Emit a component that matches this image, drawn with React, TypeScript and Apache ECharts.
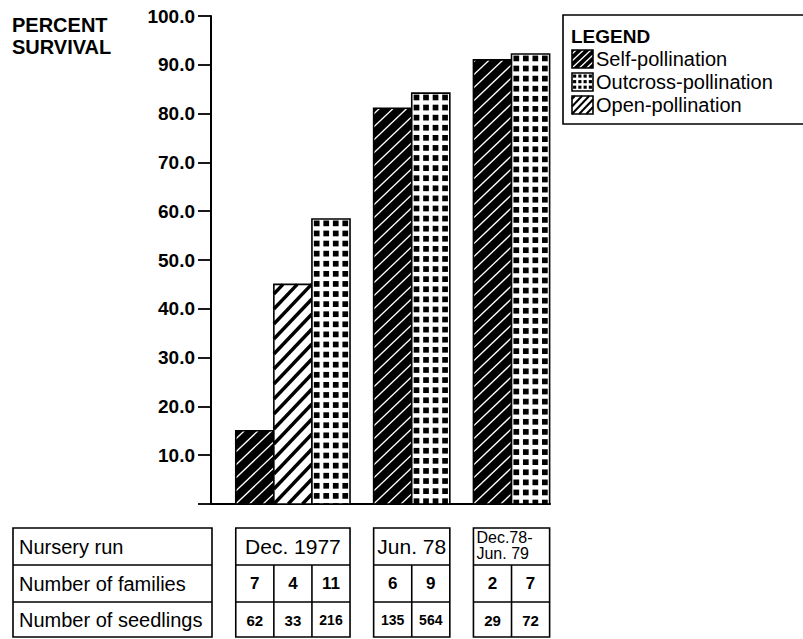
import React, { useEffect, useRef } from 'react';
import * as echarts from 'echarts';

// ---- data ----
const runs = ['Dec. 1977', 'Jun. 78', 'Dec.78-\nJun. 79'];
const kindNames = ['Self-pollination', 'Open-pollination', 'Outcross-pollination'];
const legendOrder = ['Self-pollination', 'Outcross-pollination', 'Open-pollination'];
const selfSurvival = [15.0, 81.1, 91.0];
const openSurvival: (number | null)[] = [45.0, null, null];
const outcrossSurvival = [58.4, 84.2, 92.2];
const selfFamilies = [7, 6, 2];
const openFamilies: (number | null)[] = [4, null, null];
const outcrossFamilies = [11, 9, 7];
const selfSeedlings = [62, 135, 29];
const openSeedlings: (number | null)[] = [33, null, null];
const outcrossSeedlings = [216, 564, 72];
const rowLabels = ['Nursery run', 'Number of families', 'Number of seedlings'];
const yTitle = ['PERCENT', 'SURVIVAL'];
const legendTitle = 'LEGEND';

// ---- layout ----
const FONT = '"Liberation Sans", Arial, Helvetica, sans-serif';
const BAR_W = 1;
const LEAD = 0.65;
const GROUP_GAP = 0.62;
const X_MAX = 8.9;

type Bar = { run: number; kind: number; value: number; families: number; seedlings: number; x0: number };

function buildBars(): Bar[] {
  const out: Bar[] = [];
  let x = LEAD;
  runs.forEach((_, i) => {
    if (i > 0) x += GROUP_GAP;
    const vals = [selfSurvival[i], openSurvival[i], outcrossSurvival[i]];
    const fam = [selfFamilies[i], openFamilies[i], outcrossFamilies[i]];
    const seed = [selfSeedlings[i], openSeedlings[i], outcrossSeedlings[i]];
    vals.forEach((v, k) => {
      if (v == null) return;
      out.push({ run: i, kind: k, value: v, families: fam[k] as number, seedlings: seed[k] as number, x0: x });
      x += BAR_W;
    });
  });
  return out;
}

function hatch(x: number, y: number, w: number, h: number, m: number, d: number, stroke: string, lw: number) {
  const els: any[] = [];
  const kMax = h + m * w;
  const j0 = Math.floor(-h / d);
  for (let k = h + j0 * d; k <= kMax + d; k += d) {
    const uA = Math.max(0, (k - h) / m);
    const uB = Math.min(w, k / m);
    if (uB - uA <= 0.3) continue;
    els.push({
      type: 'line',
      silent: true,
      shape: { x1: x + uA, y1: y + k - m * uA, x2: x + uB, y2: y + k - m * uB },
      style: { stroke, lineWidth: lw },
    });
  }
  return els;
}

function dots(x: number, y: number, w: number, h: number, cols: number, topOff: number) {
  const els: any[] = [];
  const px = w / cols;
  const s = px * 0.6;
  const py = px * 1.06;
  for (let r = 0; r < 500; r++) {
    const yy = y + topOff + r * py;
    if (yy >= y + h - 0.5) break;
    const hh = Math.min(s, y + h - yy);
    for (let c = 0; c < cols; c++) {
      els.push({
        type: 'rect',
        silent: true,
        shape: { x: x + (c + 0.5) * px - s / 2, y: yy, width: s, height: hh },
        style: { fill: '#000' },
      });
    }
  }
  return els;
}

function patternEls(kind: number, x: number, y: number, w: number, h: number, small = false) {
  const els: any[] = [];
  if (kind === 0) {
    els.push({ type: 'rect', silent: true, shape: { x, y, width: w, height: h }, style: { fill: '#000' } });
    els.push(...hatch(x, y, w, h, 0.95, small ? 7 : 13, '#fff', 1.3));
  } else if (kind === 1) {
    els.push({ type: 'rect', silent: true, shape: { x, y, width: w, height: h }, style: { fill: '#fff' } });
    els.push(...hatch(x, y, w, h, 1.05, small ? 7.5 : 15, '#000', small ? 2 : 3.4));
  } else {
    els.push({ type: 'rect', silent: true, shape: { x, y, width: w, height: h }, style: { fill: '#fff' } });
    els.push(...dots(x, y, w, h, 4, 1.5));
  }
  els.push({
    type: 'rect',
    silent: true,
    shape: { x, y, width: w, height: h },
    style: { fill: 'none', stroke: '#000', lineWidth: 1.6 },
  });
  return els;
}

function txt(text: string, x: number, y: number, size: number, bold: boolean, align = 'left', extra: any = {}) {
  return {
    type: 'text',
    x,
    y,
    silent: true,
    style: {
      text,
      fontSize: size,
      fontFamily: FONT,
      fontWeight: bold ? 'bold' : 'normal',
      fill: '#000',
      align,
      textAlign: align,
      verticalAlign: 'middle',
      textVerticalAlign: 'middle',
      ...extra,
    },
  };
}

function line(x1: number, y1: number, x2: number, y2: number, lw = 1.6) {
  return { type: 'line', silent: true, shape: { x1, y1, x2, y2 }, style: { stroke: '#000', lineWidth: lw } };
}

export default function App() {
  const ref = useRef<HTMLDivElement>(null);
  useEffect(() => {
    if (!ref.current) return;
    const chart = echarts.init(ref.current, null, { renderer: 'svg' });
    const bars = buildBars();
    chart.setOption({
      animation: false,
      grid: { left: 211, right: 253, top: 16, bottom: 135 },
      xAxis: {
        type: 'value',
        min: 0,
        max: X_MAX,
        axisLine: { show: true, lineStyle: { color: '#000', width: 2 } },
        axisTick: { show: false },
        axisLabel: { show: false },
        splitLine: { show: false },
      },
      yAxis: {
        type: 'value',
        min: 0,
        max: 100,
        interval: 10,
        axisLine: { show: true, lineStyle: { color: '#000', width: 2 } },
        axisTick: { show: true, length: 13, lineStyle: { color: '#000', width: 1.8 } },
        axisLabel: {
          formatter: (v: number) => (v === 0 ? '' : v.toFixed(1)),
          color: '#000',
          fontSize: 19,
          fontWeight: 'bold',
          fontFamily: FONT,
          margin: 16,
        },
        splitLine: { show: false },
      },
      series: [
        {
          type: 'custom',
          name: 'survival',
          clip: false,
          encode: { x: 0, y: 1 },
          data: bars.map((b) => [b.x0, b.value, b.kind]),
          renderItem: (params: any, api: any) => {
            const x0 = api.value(0);
            const v = api.value(1);
            const k = api.value(2);
            const p0 = api.coord([x0, v]);
            const p1 = api.coord([x0 + BAR_W, 0]);
            return {
              type: 'group',
              children: patternEls(k, p0[0], p0[1], p1[0] - p0[0], p1[1] - p0[1]),
            };
          },
        },
      ],
    });

    const px = (u: number) => chart.convertToPixel({ xAxisIndex: 0 }, u) as number;
    const els: any[] = [];

    // y title
    els.push(txt(yTitle[0], 12, 25, 20, true));
    els.push(txt(yTitle[1], 12, 47, 20, true));

    // legend
    const LX = 563, LY = 15;
    els.push({
      type: 'rect',
      silent: true,
      shape: { x: LX, y: LY, width: 260, height: 109 },
      style: { fill: 'none', stroke: '#000', lineWidth: 1.6 },
    });
    els.push(txt(legendTitle, 571, 36, 19, true));
    legendOrder.forEach((name, i) => {
      const k = kindNames.indexOf(name);
      const cy = 59 + i * 23;
      els.push({ type: 'group', children: patternEls(k, 572, cy - 9, 21, 18, true) });
      els.push(txt(name, 596, cy, 20, false));
    });

    // table
    const rowY = [528, 565, 602, 637];
    const rowMid = [546.5, 583.5, 620];
    const TL = 13, TR = 212;
    els.push({
      type: 'rect',
      silent: true,
      shape: { x: TL, y: rowY[0], width: TR - TL, height: rowY[3] - rowY[0] },
      style: { fill: 'none', stroke: '#000', lineWidth: 1.6 },
    });
    els.push(line(TL, rowY[1], TR, rowY[1]));
    els.push(line(TL, rowY[2], TR, rowY[2]));
    rowLabels.forEach((lab, i) => els.push(txt(lab, TL + 6, rowMid[i], 20, false)));

    runs.forEach((run, i) => {
      const gb = bars.filter((b) => b.run === i);
      const xL = px(gb[0].x0);
      const xR = px(gb[gb.length - 1].x0 + BAR_W);
      els.push({
        type: 'rect',
        silent: true,
        shape: { x: xL, y: rowY[0], width: xR - xL, height: rowY[3] - rowY[0] },
        style: { fill: 'none', stroke: '#000', lineWidth: 1.6 },
      });
      els.push(line(xL, rowY[1], xR, rowY[1]));
      els.push(line(xL, rowY[2], xR, rowY[2]));
      if (run.includes('\n')) {
        const parts = run.split('\n');
        parts.forEach((p, pi) => {
          els.push(txt(p, xL + 3, rowY[0] + 9 + pi * 16, 16, false, 'left'));
        });
      } else {
        els.push(txt(run, (xL + xR) / 2, rowMid[0], 21, false, 'center'));
      }
      gb.forEach((b, j) => {
        const cL = px(b.x0);
        const cR = px(b.x0 + BAR_W);
        if (j > 0) els.push(line(cL, rowY[1], cL, rowY[3]));
        const big = b.seedlings >= 100;
        els.push(txt(String(b.families), (cL + cR) / 2, rowMid[1], 17, true, 'center'));
        els.push(txt(String(b.seedlings), (cL + cR) / 2, rowMid[2], big ? 14 : 15, true, 'center'));
      });
    });

    chart.setOption({ graphic: { elements: els } });
    return () => chart.dispose();
  }, []);

  return (
    <div
      ref={ref}
      style={{ position: 'fixed', left: 0, top: 0, width: 803, height: 639, background: '#fff' }}
    />
  );
}
